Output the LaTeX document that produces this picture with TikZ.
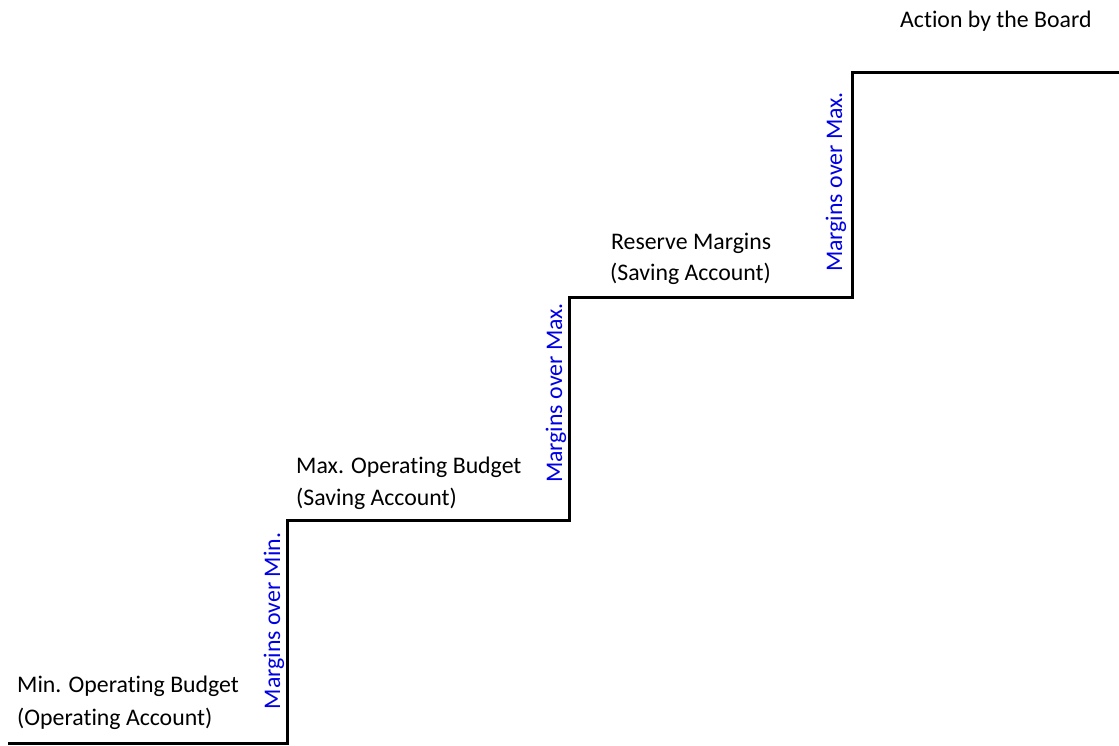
\documentclass[tikz,border=0pt]{standalone}
\usepackage{fontspec}
\setmainfont[RawFeature={-liga;-dlig;-clig}]{Carlito}
\begin{document}
\begin{tikzpicture}[x=1pt,y=-1pt,
  lbl/.style={inner sep=0pt, anchor=base west, font=\fontsize{23.8}{28}\selectfont, text=black},
  vlbl/.style={inner sep=0pt, anchor=base, rotate=90, font=\fontsize{23.8}{28}\selectfont, text={rgb,255:red,0;green,0;blue,230}},
  stair/.style={line width=3pt, miter limit=10, line join=miter}]
\useasboundingbox (0,0) rectangle (1119,745);
\coordinate (s0) at (8,743);
\coordinate (s1) at (287,743);
\coordinate (s2) at (287,520);
\coordinate (s3) at (569,520);
\coordinate (s4) at (569,297);
\coordinate (s5) at (852,297);
\coordinate (s6) at (852,72);
\coordinate (s7) at (1121,72);
\draw[stair] (s0) -- (s1) -- (s2) -- (s3) -- (s4) -- (s5) -- (s6) -- (s7);
\node[lbl] (min1) at (17,692) {Min. Operating Budget};
\node[lbl] (min2) at (17,725) {(Operating Account)};
\node[lbl] (max1) at (296,473) {Max. Operating Budget};
\node[lbl] (max2) at (296,505) {(Saving Account)};
\node[lbl] (res1) at (611,249) {Reserve Margins};
\node[lbl] (res2) at (610,280) {(Saving Account)};
\node[lbl] (act) at (900,27) {Action by the Board};
\node[vlbl] (m1) at (280,621) {Margins over Min.};
\node[vlbl] (m2) at (562,393) {Margins over Max.};
\node[vlbl] (m3) at (842,182) {Margins over Max.};
\end{tikzpicture}
\end{document}
